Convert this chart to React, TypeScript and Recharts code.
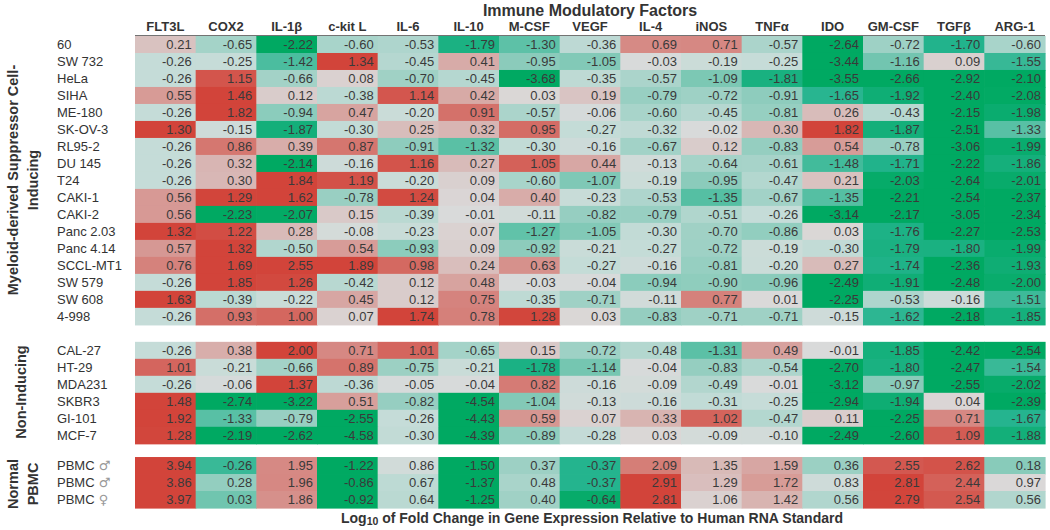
import React from "react";
import { ScatterChart, Scatter, XAxis, YAxis } from "recharts";

const FACTORS = ["FLT3L", "COX2", "IL-1β", "c-kit L", "IL-6", "IL-10", "M-CSF", "VEGF", "IL-4", "iNOS", "TNFα", "IDO", "GM-CSF", "TGFβ", "ARG-1"];

const MDSC_LINES = ["60", "SW 732", "HeLa", "SIHA", "ME-180", "SK-OV-3", "RL95-2", "DU 145", "T24", "CAKI-1", "CAKI-2", "Panc 2.03", "Panc 4.14", "SCCL-MT1", "SW 579", "SW 608", "4-998"];
const MDSC_VALUES = [
  [0.21, -0.65, -2.22, -0.60, -0.53, -1.79, -1.30, -0.36, 0.69, 0.71, -0.57, -2.64, -0.72, -1.70, -0.60],
  [-0.26, -0.25, -1.42, 1.34, -0.45, 0.41, -0.95, -1.05, -0.03, -0.19, -0.25, -3.44, -1.16, 0.09, -1.55],
  [-0.26, 1.15, -0.66, 0.08, -0.70, -0.45, -3.68, -0.35, -0.57, -1.09, -1.81, -3.55, -2.66, -2.92, -2.10],
  [0.55, 1.46, 0.12, -0.38, 1.14, 0.42, 0.03, 0.19, -0.79, -0.72, -0.91, -1.65, -1.92, -2.40, -2.08],
  [-0.26, 1.82, -0.94, 0.47, -0.20, 0.91, -0.57, -0.06, -0.60, -0.45, -0.81, 0.26, -0.43, -2.15, -1.98],
  [1.30, -0.15, -1.87, -0.30, 0.25, 0.32, 0.95, -0.27, -0.32, -0.02, 0.30, 1.82, -1.87, -2.51, -1.33],
  [-0.26, 0.86, 0.39, 0.87, -0.91, -1.32, -0.30, -0.16, -0.67, 0.12, -0.83, 0.54, -0.78, -3.06, -1.99],
  [-0.26, 0.32, -2.14, -0.16, 1.16, 0.27, 1.05, 0.44, -0.13, -0.64, -0.61, -1.48, -1.71, -2.22, -1.86],
  [-0.26, 0.30, 1.84, 1.19, -0.20, 0.09, -0.60, -1.07, -0.19, -0.95, -0.47, 0.21, -2.03, -2.64, -2.01],
  [0.56, 1.29, 1.62, -0.78, 1.24, 0.04, 0.40, -0.23, -0.53, -1.35, -0.67, -1.35, -2.21, -2.54, -2.37],
  [0.56, -2.23, -2.07, 0.15, -0.39, -0.01, -0.11, -0.82, -0.79, -0.51, -0.26, -3.14, -2.17, -3.05, -2.34],
  [1.32, 1.22, 0.28, -0.08, -0.23, 0.07, -1.27, -1.05, -0.30, -0.70, -0.86, 0.03, -1.76, -2.27, -2.53],
  [0.57, 1.32, -0.50, 0.54, -0.93, 0.09, -0.92, -0.21, -0.27, -0.72, -0.19, -0.30, -1.79, -1.80, -1.99],
  [0.76, 1.69, 2.55, 1.89, 0.98, 0.24, 0.63, -0.27, -0.16, -0.81, -0.20, 0.27, -1.74, -2.36, -1.93],
  [-0.26, 1.85, 1.26, -0.42, 0.12, 0.48, -0.03, -0.04, -0.94, -0.90, -0.96, -2.49, -1.91, -2.48, -2.00],
  [1.63, -0.39, -0.22, 0.45, 0.12, 0.75, -0.35, -0.71, -0.11, 0.77, 0.01, -2.25, -0.53, -0.16, -1.51],
  [-0.26, 0.93, 1.00, 0.07, 1.74, 0.78, 1.28, 0.03, -0.83, -0.71, -0.71, -0.15, -1.62, -2.18, -1.85],
];

const NON_LINES = ["CAL-27", "HT-29", "MDA231", "SKBR3", "GI-101", "MCF-7"];
const NON_VALUES = [
  [-0.26, 0.38, 2.00, 0.71, 1.01, -0.65, 0.15, -0.72, -0.48, -1.31, 0.49, -0.01, -1.85, -2.42, -2.54],
  [1.01, -0.21, -0.66, 0.89, -0.75, -0.21, -1.78, -1.14, -0.04, -0.83, -0.54, -2.70, -1.80, -2.47, -1.54],
  [-0.26, -0.06, 1.37, -0.36, -0.05, -0.04, 0.82, -0.16, -0.09, -0.49, -0.01, -3.12, -0.97, -2.55, -2.02],
  [1.48, -2.74, -3.22, 0.51, -0.82, -4.54, -1.04, -0.13, -0.16, -0.31, -0.25, -2.94, -1.94, 0.04, -2.39],
  [1.92, -1.33, -0.79, -2.55, -0.26, -4.43, 0.59, 0.07, 0.33, 1.02, -0.47, 0.11, -2.25, 0.71, -1.67],
  [1.28, -2.19, -2.62, -4.58, -0.30, -4.39, -0.89, -0.28, 0.03, -0.09, -0.10, -2.49, -2.60, 1.09, -1.88],
];

const PBMC_LINES = ["PBMC ♂", "PBMC ♂", "PBMC ♀"];
const PBMC_VALUES = [
  [3.94, -0.26, 1.95, -1.22, 0.86, -1.50, 0.37, -0.37, 2.09, 1.35, 1.59, 0.36, 2.55, 2.62, 0.18],
  [3.86, 0.28, 1.96, -0.86, 0.67, -1.37, 0.48, -0.37, 2.91, 1.29, 1.72, 0.83, 2.81, 2.44, 0.97],
  [3.97, 0.03, 1.86, -0.92, 0.64, -1.25, 0.40, -0.64, 2.81, 1.06, 1.42, 0.56, 2.79, 2.54, 0.56],
];

// colour scale settings (the PBMC block is coloured on its own scale)
const MAIN_SCALE = { mid: 0, lo: -2.1, hi: 1.3 };
const PBMC_SCALE = { mid: 0.95, lo: -0.7, hi: 2.8 };

const FONT = "'Liberation Sans', Arial, sans-serif";
const TEXT = "#333";
const W = 1050;
const H = 530;
const PLOT_LEFT = 135;
const PLOT_RIGHT = 5;
const TOP = 36;
const BOTTOM = 22;
const CELL_W = (W - PLOT_LEFT - PLOT_RIGHT) / FACTORS.length;

const GREEN = [
  [0, [218, 218, 218]],
  [0.12, [198, 220, 216]],
  [0.5, [130, 201, 183]],
  [0.8, [36, 180, 142]],
  [1, [0, 169, 98]],
] as const;
const RED = [
  [0, [218, 218, 218]],
  [1, [210, 68, 58]],
] as const;

function ramp(stops: readonly (readonly [number, readonly number[]])[], t: number) {
  t = Math.max(0, Math.min(1, t));
  for (let i = 1; i < stops.length; i++) {
    const [t1, c1] = stops[i];
    const [t0, c0] = stops[i - 1];
    if (t <= t1) {
      const f = (t - t0) / (t1 - t0);
      const c = c0.map((v, k) => Math.round(v + (c1[k] - v) * f));
      return `rgb(${c[0]},${c[1]},${c[2]})`;
    }
  }
  const c = stops[stops.length - 1][1];
  return `rgb(${c[0]},${c[1]},${c[2]})`;
}

function heatColor(v: number, s: { mid: number; lo: number; hi: number }) {
  if (v >= s.mid) return ramp(RED, (v - s.mid) / (s.hi - s.mid));
  return ramp(GREEN, (s.mid - v) / (s.mid - s.lo));
}

const BLOCKS = [
  { names: MDSC_LINES, values: MDSC_VALUES, scale: MAIN_SCALE, gap: 0 },
  { names: NON_LINES, values: NON_VALUES, scale: MAIN_SCALE, gap: 1 },
  { names: PBMC_LINES, values: PBMC_VALUES, scale: PBMC_SCALE, gap: 0.78 },
];

const rows: { name: string; y: number }[] = [];
const cells: { x: number; y: number; v: number; scale: typeof MAIN_SCALE }[] = [];
let pos = 0;
BLOCKS.forEach((b) => {
  pos += b.gap;
  b.names.forEach((name, r) => {
    const y = pos + 0.5;
    rows.push({ name, y });
    b.values[r].forEach((v, c) => cells.push({ x: c + 0.5, y, v, scale: b.scale }));
    pos += 1;
  });
});
const TOTAL = pos;
const ROW_H = (H - TOP - BOTTOM) / TOTAL;
const rowName = new Map(rows.map((r) => [r.y, r.name]));

const CellShape = (props: any) => {
  const { cx, cy, payload } = props;
  if (cx == null || cy == null) return null;
  return (
    <g>
      <rect x={cx - CELL_W / 2} y={cy - ROW_H / 2} width={CELL_W + 0.6} height={ROW_H + 0.6}
        fill={heatColor(payload.v, payload.scale)} />
      <text x={cx + CELL_W / 2 - 4} y={cy + 4.6} textAnchor="end" fontSize={13} fontFamily={FONT} fill="#3a3a3a">
        {payload.v.toFixed(2)}
      </text>
    </g>
  );
};

const RowTick = (props: any) => {
  const name = rowName.get(props.payload.value) ?? "";
  const m = name.match(/^(.*?)( [♂♀])$/);
  return (
    <text x={57} y={props.y + 4.6} fontSize={13} fontFamily={FONT} fill={TEXT}>
      {m ? <>{m[1]}<tspan fill="#999" fontFamily="'DejaVu Sans', sans-serif">{m[2]}</tspan></> : name}
    </text>
  );
};

const ColTick = (props: any) => (
  <text x={props.x} y={31} textAnchor="middle" fontSize={13} fontWeight="bold" fontFamily={FONT} fill={TEXT}>
    {FACTORS[Math.floor(props.payload.value)]}
  </text>
);

const groupStyle = { fontSize: 14.5, fontWeight: "bold" as const, fontFamily: FONT, fill: TEXT };

export default function App() {
  return (
    <div style={{ position: "absolute", left: 0, top: 0, width: W, height: H, background: "#fff" }}>
      <ScatterChart width={W} height={H} margin={{ top: 0, right: PLOT_RIGHT, bottom: BOTTOM, left: 0 }}>
        <XAxis type="number" dataKey="x" orientation="top" domain={[0, FACTORS.length]} height={TOP}
          ticks={FACTORS.map((_, i) => i + 0.5)} interval={0} tick={<ColTick />} tickLine={false}
          axisLine={{ stroke: "#444", strokeWidth: 1.5 }} />
        <YAxis type="number" dataKey="y" reversed domain={[0, TOTAL]} width={PLOT_LEFT}
          ticks={rows.map((r) => r.y)} interval={0} tick={<RowTick />} tickLine={false} axisLine={false} />
        <Scatter data={cells} shape={<CellShape />} isAnimationActive={false} />
      </ScatterChart>
      <svg width={W} height={H} style={{ position: "absolute", left: 0, top: 0, pointerEvents: "none" }}>
        <text x={590} y={16} textAnchor="middle" fontSize={16} fontWeight="bold" fontFamily={FONT} fill={TEXT}>
          Immune Modulatory Factors
        </text>
        <text x={592} y={523} textAnchor="middle" fontSize={14} fontWeight="bold" fontFamily={FONT} fill={TEXT}>
          Log<tspan fontSize={10.5} dy={2}>10</tspan><tspan dy={-2}> of Fold Change in Gene Expression Relative to Human RNA Standard</tspan>
        </text>
        <g transform="translate(18,180) rotate(-90)">
          <text textAnchor="middle" {...groupStyle}>Myeloid-derived Suppressor Cell-</text>
        </g>
        <g transform="translate(38,180) rotate(-90)">
          <text textAnchor="middle" {...groupStyle}>Inducing</text>
        </g>
        <g transform="translate(26,392) rotate(-90)">
          <text textAnchor="middle" {...groupStyle}>Non-Inducing</text>
        </g>
        <g transform="translate(18,484) rotate(-90)">
          <text textAnchor="middle" {...groupStyle}>Normal</text>
        </g>
        <g transform="translate(38,484) rotate(-90)">
          <text textAnchor="middle" {...groupStyle}>PBMC</text>
        </g>
      </svg>
    </div>
  );
}
